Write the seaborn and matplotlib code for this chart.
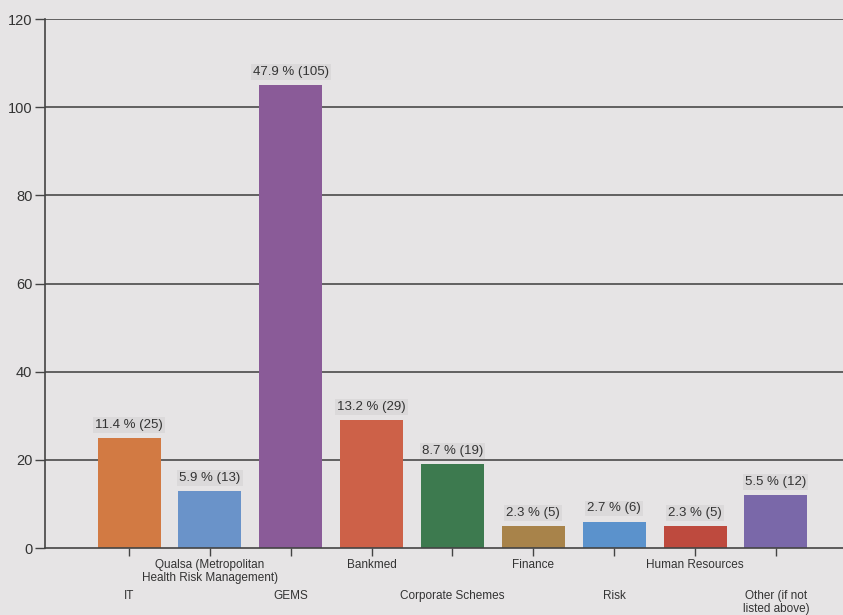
import matplotlib
matplotlib.use("Agg")
import matplotlib.pyplot as plt
import seaborn as sns
import pandas as pd

categories = ["IT", "Qualsa (Metropolitan\nHealth Risk Management)", "GEMS", "Bankmed",
              "Corporate Schemes", "Finance", "Risk", "Human Resources",
              "Other (if not\nlisted above)"]
counts = [25, 13, 105, 29, 19, 5, 6, 5, 12]
percents = ["11.4", "5.9", "47.9", "13.2", "8.7", "2.3", "2.7", "2.3", "5.5"]
colors = ["#d27a43", "#6a93c9", "#8a5b98", "#cd6148", "#3d7a4f",
          "#a8834a", "#5b92cc", "#be4a3e", "#7a68a9"]
yticks = [0, 20, 40, 60, 80, 100, 120]

bg = "#e6e4e5"
sns.set_theme(style="white")
plt.rcParams['font.family'] = ['Liberation Sans', 'DejaVu Sans']

df = pd.DataFrame({"cat": categories, "count": counts})

fig = plt.figure(figsize=(8.43, 6.15), dpi=100, facecolor=bg)
ax = fig.add_axes([45/843, 67/615, 1 - 45/843, (596 - 67)/615])
ax.set_facecolor(bg)

for y in yticks[1:]:
    ax.axhline(y, color="#4a4a4a", lw=1.2, zorder=0)

sns.barplot(data=df, x="cat", y="count", hue="cat", palette=colors, legend=False,
            width=0.78, saturation=1, ax=ax, zorder=2, edgecolor="none", linewidth=0)

for i, (c, p) in enumerate(zip(counts, percents)):
    ax.text(i, c + 1.6, f"{p} % ({c})", ha="center", va="bottom", fontsize=9.5,
            color="#333333", zorder=3,
            bbox=dict(boxstyle="square,pad=0.15", fc="#dbd9da", ec="none"))

ax.set_xlim(-1.04, 8.83)
ax.set_ylim(0, 120)
ax.set_yticks(yticks)
ax.set_yticklabels([str(v) for v in yticks], fontsize=10.5, color="#333333")
ax.set_xlabel("")
ax.set_ylabel("")

for s in ["top", "right"]:
    ax.spines[s].set_visible(False)
ax.spines["left"].set_color("#444444")
ax.spines["bottom"].set_color("#444444")
ax.spines["left"].set_linewidth(1.2)
ax.spines["bottom"].set_linewidth(1.2)

ax.tick_params(axis="y", direction="out", length=7, width=1, color="#444444", left=True, pad=2)
ax.tick_params(axis="x", direction="out", length=6, width=1, color="#444444", bottom=True)

ax.set_xticks(range(len(categories)))
ax.set_xticklabels(categories, fontsize=8.5, color="#333333", linespacing=1.15)
for i, t in enumerate(ax.xaxis.get_major_ticks()):
    t.set_pad(24 if i % 2 == 0 else 2)

fig.savefig("out.png", dpi=100, facecolor=bg)
